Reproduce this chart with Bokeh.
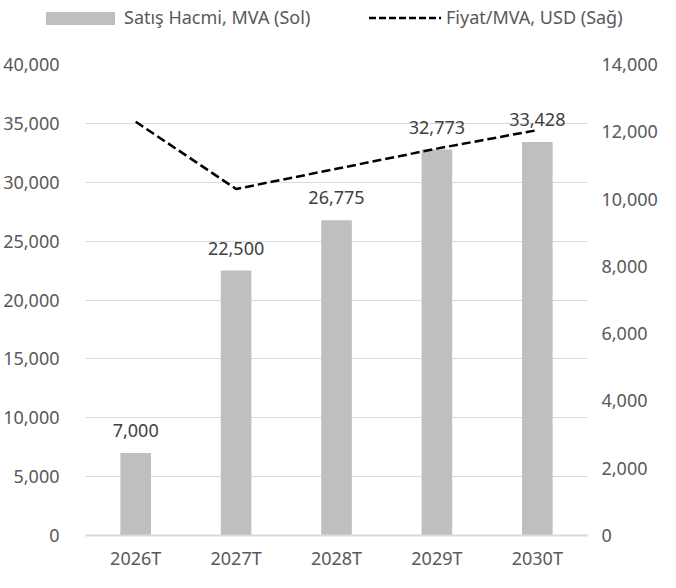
from bokeh.plotting import figure
from bokeh.layouts import column
from bokeh.models import (ColumnDataSource, Range1d, LinearAxis, FactorRange, Div,
                          LabelSet, FixedTicker, NumeralTickFormatter)
from bokeh.core.properties import value
from bokeh.embed import file_html
from bokeh.resources import INLINE

years = ["2026T", "2027T", "2028T", "2029T", "2030T"]
volume = [7000, 22500, 26775, 32773, 33428]
price = [12300, 10300, 10900, 11500, 12050]
vol_labels = ["7,000", "22,500", "26,775", "32,773", "33,428"]
left_ticks = [0, 5000, 10000, 15000, 20000, 25000, 30000, 35000, 40000]
right_ticks = [0, 2000, 4000, 6000, 8000, 10000, 12000, 14000]
series_names = ["Satış Hacmi, MVA (Sol)", "Fiyat/MVA, USD (Sağ)"]

FONT = "Noto Sans"
TICK_SIZE = "18px"
BAR_COLOR = "#bfbfbf"
LEGEND_H = 36
src = ColumnDataSource(dict(x=years, v=volume, p=price, lab=vol_labels))

p = figure(x_range=FactorRange(*years, range_padding=0), y_range=Range1d(0, 40000),
           width=660, height=572 - LEGEND_H, output_backend="svg", toolbar_location=None,
           min_border_left=84, min_border_right=64, min_border_top=28, min_border_bottom=34)
p.outline_line_color = None
p.extra_y_ranges = {"right": Range1d(0, 14000)}

bars = p.vbar(x="x", top="v", width=0.305, source=src, fill_color=BAR_COLOR, line_color=None)
line = p.line(x="x", y="p", source=src, y_range_name="right", line_color="black",
              line_width=2.5, line_dash="9 4")

labels = LabelSet(x="x", y="v", text="lab", source=src, text_align="center",
                  text_baseline="bottom", y_offset=16, text_font=value(FONT),
                  text_font_size="18px", text_color="#404040")
p.add_layout(labels)

# left axis
ya = p.yaxis[0]
ya.ticker = FixedTicker(ticks=left_ticks)
ya.formatter = NumeralTickFormatter(format="0,0")
ya.axis_line_color = None
ya.major_tick_line_color = None
ya.minor_tick_line_color = None
ya.major_label_text_font = FONT
ya.major_label_text_font_size = TICK_SIZE
ya.major_label_text_color = "#595959"
ya.major_label_standoff = 20

# right axis
ra = LinearAxis(y_range_name="right", ticker=FixedTicker(ticks=right_ticks),
                formatter=NumeralTickFormatter(format="0,0"))
ra.axis_line_color = None
ra.major_tick_line_color = None
ra.minor_tick_line_color = None
ra.major_label_text_font = FONT
ra.major_label_text_font_size = TICK_SIZE
ra.major_label_text_color = "#595959"
ra.major_label_standoff = 8
p.add_layout(ra, "right")

# x axis
xa = p.xaxis[0]
xa.axis_line_color = "#d9d9d9"
xa.axis_line_width = 2
xa.major_tick_line_color = None
xa.minor_tick_line_color = None
xa.major_label_text_font = FONT
xa.major_label_text_font_size = TICK_SIZE
xa.major_label_text_color = "#595959"
xa.major_label_standoff = 4

p.xgrid.grid_line_color = None
p.ygrid.ticker = FixedTicker(ticks=left_ticks)
p.ygrid.grid_line_color = "#d9d9d9"
p.ygrid.grid_line_width = 1

# legend strip on top (HTML)
legend_html = f"""
<div style="position:relative;width:660px;height:{LEGEND_H}px;font-family:'{FONT}';font-size:18px;color:#595959;white-space:nowrap;">
  <span style="position:absolute;left:46px;top:12px;width:69px;height:13px;background:{BAR_COLOR};"></span>
  <span style="position:absolute;left:124px;top:5px;line-height:24px;">{series_names[0]}</span>
  <svg style="position:absolute;left:369px;top:14px;" width="72" height="8">
    <line x1="0" y1="4" x2="72" y2="4" stroke="#000" stroke-width="2.5" stroke-dasharray="7 3"/>
  </svg>
  <span style="position:absolute;left:446px;top:5px;line-height:24px;">{series_names[1]}</span>
</div>
"""
legend_div = Div(text=legend_html, width=660, height=LEGEND_H, margin=0)

layout = column(legend_div, p, spacing=0)
open("out.html", "w").write(file_html(layout, INLINE))
